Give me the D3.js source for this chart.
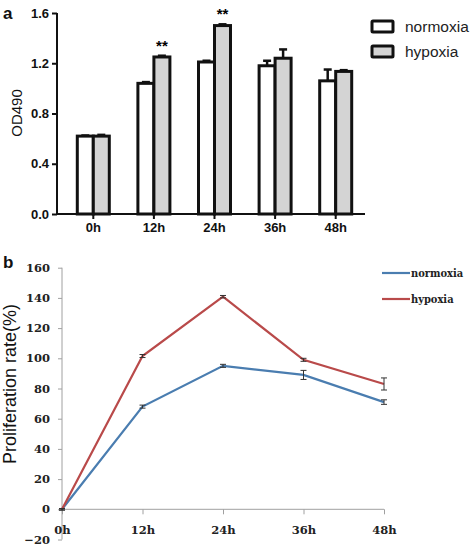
<!DOCTYPE html>
<html><head><meta charset="utf-8">
<script src="https://cdn.jsdelivr.net/npm/d3@7"></script>
<style>body{margin:0;background:#fff}svg{display:block}</style>
</head><body>
<svg id="c" width="472" height="546"></svg>
<script>
// Panel a data
const categories = ["0h","12h","24h","36h","48h"];
const seriesNames = ["normoxia","hypoxia"];
const odNormoxia = [0.62, 1.04, 1.21, 1.18, 1.06];
const odNormoxiaErr = [0.005, 0.01, 0.01, 0.04, 0.09];
const odHypoxia = [0.62, 1.25, 1.50, 1.24, 1.135];
const odHypoxiaErr = [0.01, 0.01, 0.01, 0.07, 0.01];
const odSignif = ["", "**", "**", "", ""];
const odTicks = [0.0, 0.4, 0.8, 1.2, 1.6];
// Panel b data
const rateNormoxia = [0, 68, 95, 89, 71];
const rateNormoxiaErr = [0.5, 1, 1, 3, 1.5];
const rateHypoxia = [0, 101.5, 140.8, 99, 83];
const rateHypoxiaErr = [0.5, 1, 0.8, 1, 4];
const rateTicks = [-20,0,20,40,60,80,100,120,140,160];

const svg = d3.select("#c");

// ---------- Panel a ----------
const ga = svg.append("g");
const xa = d3.scaleBand().domain(categories).range([63, 366]);
const ya = d3.scaleLinear().domain([0, 1.6]).range([214, 13]);
const barW = 16;
const fills = ["#ffffff", "#d4d4d4"];
const dataA = [odNormoxia, odHypoxia];
const errA = [odNormoxiaErr, odHypoxiaErr];

dataA.forEach((vals, si) => {
  const xOff = si === 0 ? -barW : 0;
  ga.selectAll(null).data(vals).enter().append("line")
    .attr("x1", (d,i) => xa(categories[i]) + xa.bandwidth()/2 + xOff + barW/2)
    .attr("x2", (d,i) => xa(categories[i]) + xa.bandwidth()/2 + xOff + barW/2)
    .attr("y1", d => ya(d)).attr("y2", (d,i) => ya(d + errA[si][i]))
    .attr("stroke", "#111").attr("stroke-width", 2.5);
  ga.selectAll(null).data(vals).enter().append("line")
    .attr("x1", (d,i) => xa(categories[i]) + xa.bandwidth()/2 + xOff + barW/2 - 4)
    .attr("x2", (d,i) => xa(categories[i]) + xa.bandwidth()/2 + xOff + barW/2 + 4)
    .attr("y1", (d,i) => ya(d + errA[si][i])).attr("y2", (d,i) => ya(d + errA[si][i]))
    .attr("stroke", "#111").attr("stroke-width", 2.5);
  ga.selectAll(null).data(vals).enter().append("rect")
    .attr("x", (d,i) => xa(categories[i]) + xa.bandwidth()/2 + xOff)
    .attr("y", d => ya(d))
    .attr("width", barW)
    .attr("height", d => ya(0) - ya(d))
    .attr("fill", fills[si]).attr("stroke", "#111").attr("stroke-width", 3);
});

ga.selectAll(null).data(odSignif).enter().append("text")
  .attr("x", (d,i) => xa(categories[i]) + xa.bandwidth()/2 + barW/2)
  .attr("y", (d,i) => ya(odHypoxia[i] + odHypoxiaErr[i]) - 5)
  .attr("text-anchor", "middle")
  .attr("font-family", "Liberation Sans, Arial, sans-serif")
  .attr("font-weight", "bold").attr("font-size", 15)
  .text(d => d);

const axA = ga.append("g").attr("transform", "translate(57,0)")
  .call(d3.axisLeft(ya).tickValues(odTicks).tickFormat(d3.format(".1f")).tickSize(5).tickPadding(3));
axA.select(".domain").attr("stroke", "#111").attr("stroke-width", 2).attr("d", "M0,13V214");
axA.selectAll(".tick line").attr("stroke", "#111").attr("stroke-width", 2);
axA.selectAll("text").attr("font-family", "Liberation Sans, Arial, sans-serif")
  .attr("font-weight", "bold").attr("font-size", 13).attr("fill", "#111");

const axAx = ga.append("g").attr("transform", "translate(0,214)")
  .call(d3.axisBottom(xa).tickSize(5).tickPadding(4));
axAx.select(".domain").attr("stroke", "#111").attr("stroke-width", 2).attr("d", "M57,0H365");
axAx.selectAll(".tick line").attr("stroke", "#111").attr("stroke-width", 2);
axAx.selectAll("text").attr("font-family", "Liberation Sans, Arial, sans-serif")
  .attr("font-weight", "bold").attr("font-size", 13).attr("fill", "#111");

ga.append("text").attr("transform", "translate(22,113) rotate(-90)")
  .attr("text-anchor", "middle")
  .attr("font-family", "Liberation Sans, Arial, sans-serif").attr("font-size", 15).attr("fill", "#111")
  .text("OD490");

ga.append("text").attr("x", 3).attr("y", 19)
  .attr("font-family", "Liberation Sans, Arial, sans-serif").attr("font-weight", "bold")
  .attr("font-size", 17).attr("fill", "#111").text("a");

seriesNames.forEach((n, i) => {
  const y0 = 21 + i * 25;
  ga.append("rect").attr("x", 372).attr("y", y0).attr("width", 21).attr("height", 11)
    .attr("fill", fills[i]).attr("stroke", "#111").attr("stroke-width", 3).attr("rx", 1);
  ga.append("text").attr("x", 405).attr("y", y0 + 11)
    .attr("font-family", "Liberation Sans, Arial, sans-serif").attr("font-size", 15.5).attr("fill", "#222")
    .text(n);
});

// ---------- Panel b ----------
const gb = svg.append("g");
const xb = d3.scalePoint().domain(categories).range([62, 384]);
const yb = d3.scaleLinear().domain([-20, 160]).range([539.5, 267.7]);
const colors = ["#4a7db0", "#b94a4a"];
const dataB = [rateNormoxia, rateHypoxia];
const errB = [rateNormoxiaErr, rateHypoxiaErr];
const serifFont = "'DejaVu Serif', serif";

const axB = gb.append("g").attr("transform", "translate(62,0)")
  .call(d3.axisLeft(yb).tickValues(rateTicks).tickSize(4).tickPadding(8));
axB.select(".domain").attr("stroke", "#a0a0a0").attr("stroke-width", 1).attr("d", "M0,267.7V539.5");
axB.selectAll(".tick line").attr("stroke", "#a0a0a0");
axB.selectAll("text").attr("font-family", serifFont).attr("font-size", 11.5)
  .attr("font-weight", "bold").attr("fill", "#222");

const axBx = gb.append("g").attr("transform", `translate(0,${yb(0)})`)
  .call(d3.axisBottom(xb).tickSize(5).tickPadding(12));
axBx.select(".domain").attr("stroke", "#a0a0a0").attr("stroke-width", 1).attr("d", "M62,0H384");
axBx.selectAll(".tick line").attr("stroke", "#a0a0a0");
axBx.selectAll("text").attr("font-family", serifFont).attr("font-size", 11.5)
  .attr("font-weight", "bold").attr("fill", "#222");

const line = d3.line().x((d,i) => xb(categories[i])).y(d => yb(d));
dataB.forEach((vals, si) => {
  gb.append("path").datum(vals).attr("d", line).attr("fill", "none")
    .attr("stroke", colors[si]).attr("stroke-width", 2.2);
});
dataB.forEach((vals, si) => {
  const e = errB[si];
  gb.selectAll(null).data(vals).enter().append("path")
    .attr("d", (d,i) => {
      const x = xb(categories[i]), y1 = yb(d + e[i]), y2 = yb(d - e[i]);
      return `M${x},${y1}V${y2}M${x-3},${y1}H${x+3}M${x-3},${y2}H${x+3}`;
    })
    .attr("fill", "none").attr("stroke", "#333").attr("stroke-width", 1);
});

gb.append("text").attr("transform", "translate(16,384) rotate(-90)")
  .attr("text-anchor", "middle")
  .attr("font-family", "'Liberation Sans', Arial, sans-serif").attr("font-size", 18).attr("fill", "#111")
  .text("Proliferation rate(%)");

gb.append("text").attr("x", 3).attr("y", 268)
  .attr("font-family", "Liberation Sans, Arial, sans-serif").attr("font-weight", "bold")
  .attr("font-size", 17).attr("fill", "#111").text("b");

seriesNames.forEach((n, i) => {
  const y0 = 273 + i * 26;
  gb.append("line").attr("x1", 382).attr("x2", 410).attr("y1", y0).attr("y2", y0)
    .attr("stroke", colors[i]).attr("stroke-width", 2.2);
  gb.append("text").attr("x", 411).attr("y", y0 + 4)
    .attr("font-family", "'DejaVu Serif Condensed', 'DejaVu Serif', serif").attr("font-size", 11).attr("font-weight", "bold").attr("fill", "#222")
    .text(n);
});
</script>
</body></html>
